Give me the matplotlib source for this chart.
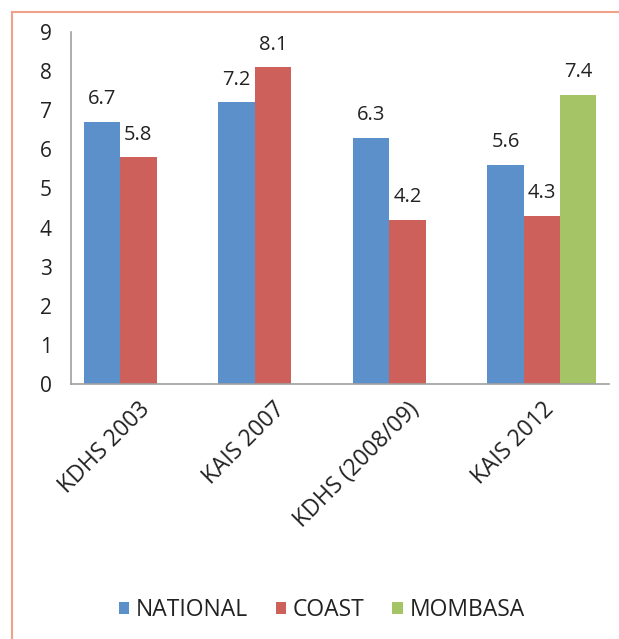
import numpy as np
from matplotlib import pyplot as plt
from matplotlib.patches import Rectangle

categories = ["KDHS 2003", "KAIS 2007", "KDHS (2008/09)", "KAIS 2012"]
national = [6.7, 7.2, 6.3, 5.6]
coast = [5.8, 8.1, 4.2, 4.3]
mombasa = [np.nan, np.nan, np.nan, 7.4]
series_names = ["NATIONAL", "COAST", "MOMBASA"]
colors = ["#5B90CB", "#CD605A", "#A5C466"]

plt.rcParams["font.family"] = ["Open Sans", "DejaVu Sans"]

fig = plt.figure(figsize=(6.19, 6.39), dpi=100)
ax = fig.add_axes([0.115, 0.399, 0.869, 0.551])

x = np.arange(len(categories))
width = 0.27
for k, (vals, name, col) in enumerate(zip([national, coast, mombasa], series_names, colors)):
    pos = x + (k - 1) * width
    ax.bar(pos, vals, width, color=col, label=name)
    for p, v in zip(pos, vals):
        if not np.isnan(v):
            ax.annotate(f"{v:.1f}", (p, v), xytext=(0, 9), textcoords="offset points",
                        ha="center", va="bottom", fontsize=14.5, color="#222222")

ax.set_xlim(-0.5, len(categories) - 0.5)
ax.set_ylim(0, 9)
ax.set_yticks(range(10))
ax.set_xticks(x)
ax.set_xticklabels(categories, rotation=45, ha="right", rotation_mode="anchor", fontsize=16.5)
ax.tick_params(axis="y", labelsize=15, length=0, pad=14, labelcolor="#222222")
ax.tick_params(axis="x", length=0, pad=10, labelcolor="#222222")
for s in ["top", "right"]:
    ax.spines[s].set_visible(False)
for s in ["left", "bottom"]:
    ax.spines[s].set_color("#A0A0A0")
    ax.spines[s].set_linewidth(1.2)

fig.legend(loc="center", bbox_to_anchor=(0.52, 0.045), ncol=3, frameon=False,
           fontsize=16.5, handlelength=0.45, handleheight=0.45, handletextpad=0.3,
           columnspacing=1.2, labelcolor="#222222")

# outer chart border (cropped at right and bottom)
fig.patches.append(Rectangle((12 / 619, -0.1), 1.1, 1 - 12 / 639 + 0.1,
                             transform=fig.transFigure, fill=False,
                             edgecolor="#F0A288", linewidth=1.5))

fig.savefig("out.png", dpi=100)
